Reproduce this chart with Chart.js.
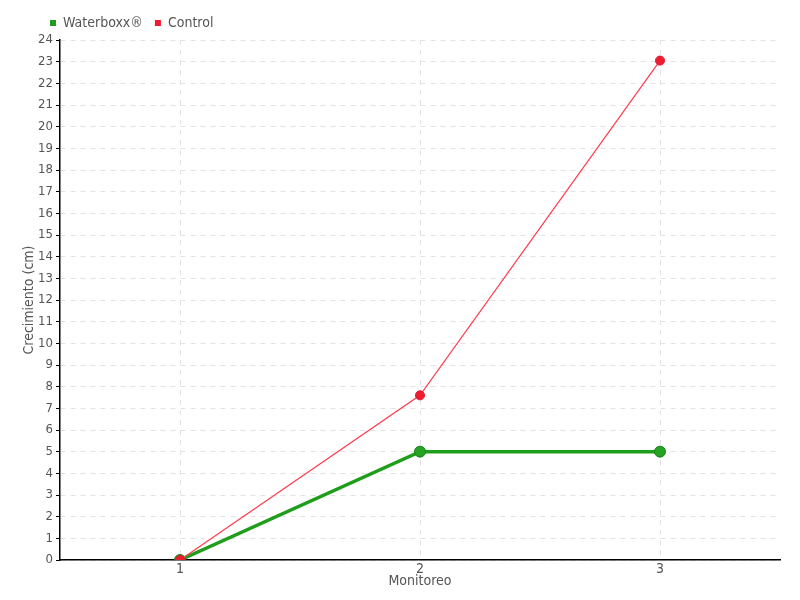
<!DOCTYPE html>
<html>
<head>
<meta charset="utf-8">
<script src="https://cdn.jsdelivr.net/npm/chart.js@4.4.0/dist/chart.umd.min.js"></script>
<style>
  html, body { margin: 0; padding: 0; background: #fff; }
  #wrap { width: 800px; height: 600px; }
</style>
</head>
<body>
<div id="wrap"><canvas id="chart" width="800" height="600"></canvas></div>
<script>
// Data
const monitoreo = ['1', '2', '3'];
const waterboxx = [0, 5, 5];
const control = [0, 7.6, 23.05];

const fontFamily = "'DejaVu Sans Condensed', 'Liberation Sans Narrow', 'Roboto', sans-serif";

new Chart(document.getElementById('chart').getContext('2d'), {
    type: 'line',
    data: {
        labels: monitoreo,
        datasets: [
            {
                label: 'Waterboxx®',
                data: waterboxx,
                borderColor: '#1e9e1a',
                backgroundColor: '#1e9e1a',
                borderWidth: 3.5,
                pointRadius: 5.5,
                pointBackgroundColor: '#26a322',
                pointBorderColor: '#17811a',
                pointBorderWidth: 1,
                tension: 0,
                order: 1
            },
            {
                label: 'Control',
                data: control,
                borderColor: '#ff3b4e',
                backgroundColor: '#ee1c2e',
                borderWidth: 1.2,
                pointRadius: 4.5,
                pointBackgroundColor: '#ee1c2e',
                pointBorderColor: '#e0162a',
                pointBorderWidth: 1,
                tension: 0,
                order: 0
            }
        ]
    },
    options: {
        responsive: false,
        animation: false,
        layout: { padding: { left: 38, right: 20, top: 4, bottom: 0 } },
        plugins: {
            legend: {
                align: 'start',
                labels: {
                    boxWidth: 6,
                    boxHeight: 6,
                    padding: 12,
                    color: '#555',
                    font: { family: fontFamily, size: 14 },
                    sort: (a, b) => a.datasetIndex - b.datasetIndex,
                    generateLabels: function(chart) {
                        const items = Chart.defaults.plugins.legend.labels.generateLabels(chart);
                        items.forEach(it => { it.lineWidth = 0; it.strokeStyle = it.fillStyle; });
                        return items;
                    }
                }
            },
            tooltip: { enabled: false }
        },
        scales: {
            x: {
                offset: true,
                afterFit: function(scale) { scale.height = 40; },
                grid: {
                    offset: false,
                    color: '#e2e2e2',
                    drawTicks: false
                },
                border: { color: '#000', width: 1.5, dash: [5, 5] },
                ticks: {
                    padding: 1,
                    color: '#555',
                    font: { family: fontFamily, size: 14 }
                },
                title: {
                    display: true,
                    text: 'Monitoreo',
                    color: '#555',
                    padding: { top: 0, bottom: 10.6 },
                    font: { family: fontFamily, size: 14 }
                }
            },
            y: {
                min: 0,
                max: 24,
                afterFit: function(scale) { scale.width = 22; },
                grid: {
                    color: '#e2e2e2',
                    tickColor: '#000',
                    tickLength: 4,
                    tickBorderDash: []
                },
                border: { color: '#000', width: 1.5, dash: [5, 5] },
                ticks: {
                    stepSize: 1,
                    padding: 3,
                    color: '#555',
                    font: { family: fontFamily, size: 13 }
                },
                title: {
                    display: true,
                    text: 'Crecimiento (cm)',
                    color: '#555',
                    padding: { top: -17, bottom: 0 },
                    font: { family: fontFamily, size: 14 }
                }
            }
        }
    }
});
</script>
</body>
</html>
